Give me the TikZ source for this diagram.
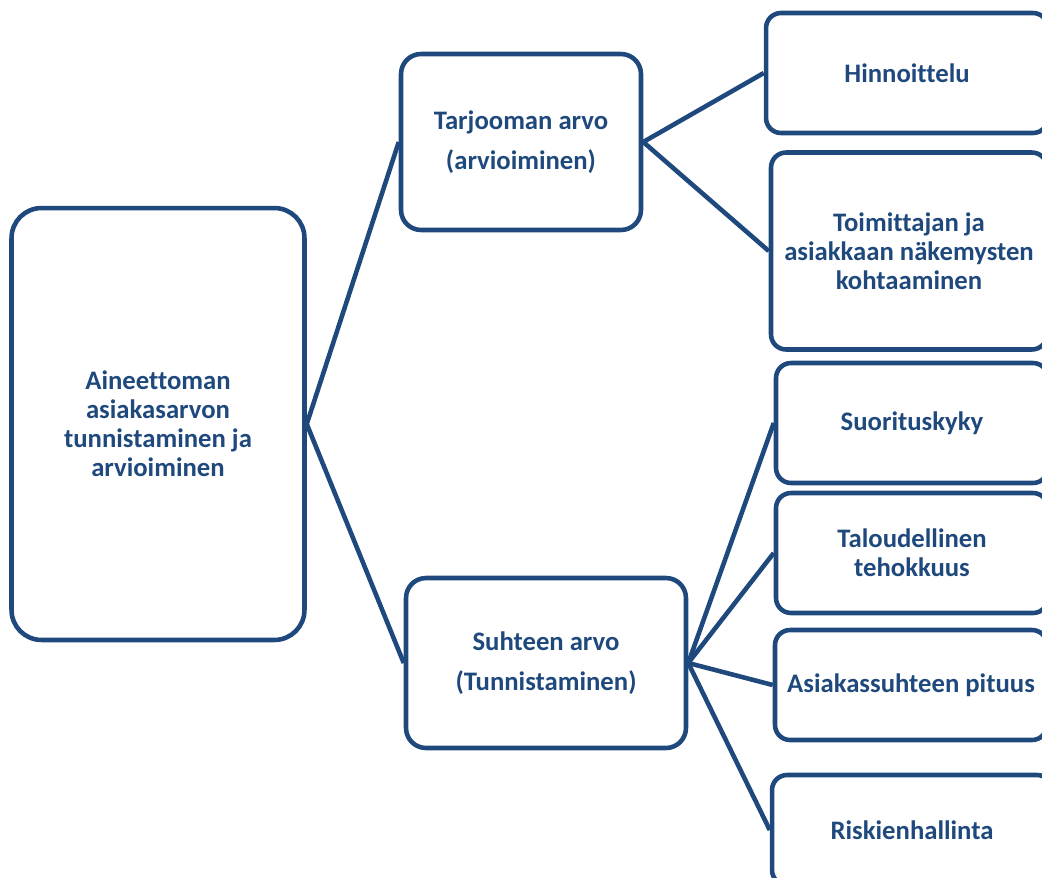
\documentclass[tikz,border=0pt]{standalone}
\usepackage{fontspec}
\setmainfont{Carlito}[Ligatures=NoCommon]
\usepackage{tikz}
\usetikzlibrary{positioning}
\definecolor{navy}{HTML}{1F497D}

\begin{document}
\begin{tikzpicture}[
x=0.02cm, y=-0.02cm,
box/.style={
		draw=navy,
		line width=2.6pt,
		rounded corners=0.3cm,
		text=navy,
		font=\bfseries\fontsize{15.2}{16.5}\selectfont,
		align=center,
		},
midbox/.style={
		box,
		rounded corners=0.4cm,
		font=\bfseries\fontsize{15.2}{23}\selectfont,
		},
link/.style={draw=navy, line width=2.6pt}
]

\def \leafw {5.44cm}
\def \leafh {2.4cm}

\useasboundingbox (0,0) rectangle (1042,877);
\clip (0,0) rectangle (1042,877);

% left
\node[box, rounded corners=0.6cm, minimum width=5.86cm, minimum height=8.64cm] (root) at (158,424)
  {Aineettoman\\asiakasarvon\\tunnistaminen ja\\arvioiminen};

% middle
\node[midbox, minimum width=4.8cm, minimum height=3.52cm] (tarj) at (521,142) {Tarjooman arvo\\(arvioiminen)};
\node[midbox, minimum width=5.6cm, minimum height=3.4cm] (suht) at (546,663) {Suhteen arvo\\(Tunnistaminen)};

% right
\node[box, minimum width=5.64cm, minimum height=\leafh] (hinn) at (907,73) {Hinnoittelu};
\node[box, minimum width=5.52cm, minimum height=3.94cm] (toim) at (909,251) {Toimittajan ja\\asiakkaan näkemysten\\kohtaaminen};
\node[box, minimum width=\leafw, minimum height=\leafh] (suor) at (912,423) {Suorituskyky};
\node[box, minimum width=\leafw, minimum height=\leafh] (talo) at (912,553) {Taloudellinen\\tehokkuus};
\node[box, minimum width=\leafw, minimum height=2.2cm] (asia) at (911,685) {Asiakassuhteen pituus};
\node[box, minimum width=5.6cm, minimum height=2.2cm] (risk) at (912,830) {Riskienhallinta};

\draw[link] (root.east) -- (tarj.west);
\draw[link] (root.east) -- (suht.west);
\foreach \t in {hinn,toim}
  \draw[link] (tarj.east) -- (\t.west);
\foreach \t in {suor,talo,asia,risk}
  \draw[link] (suht.east) -- (\t.west);

\end{tikzpicture}
\end{document}
